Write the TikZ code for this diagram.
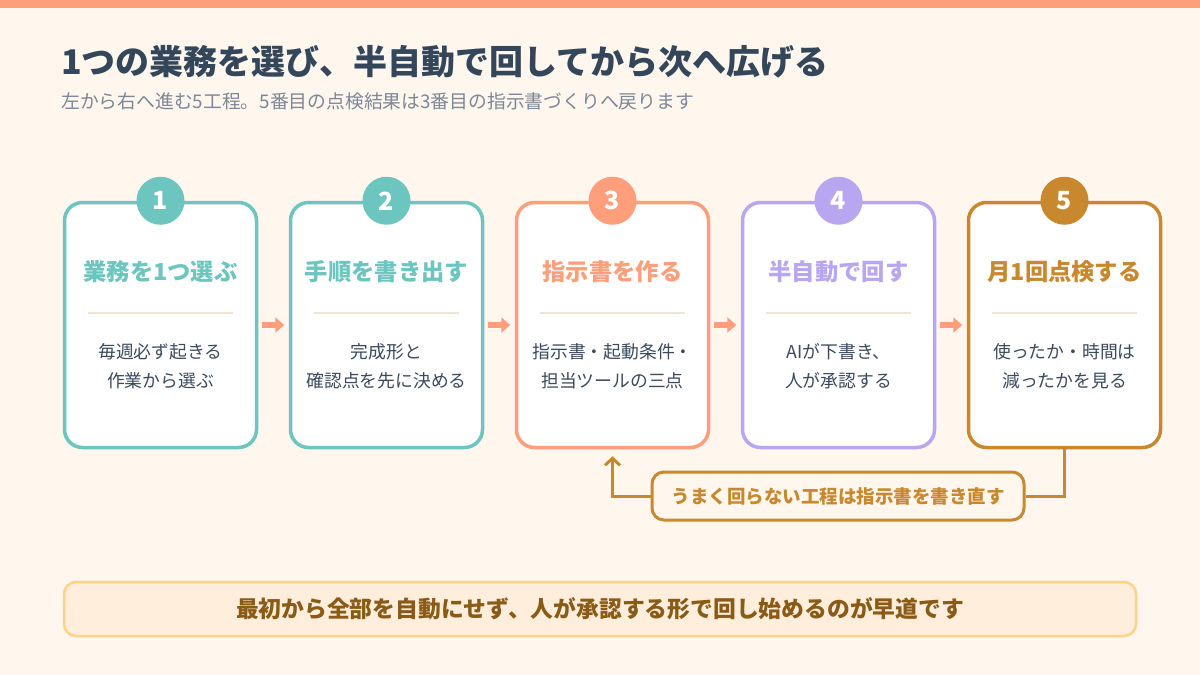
\documentclass[tikz,border=0pt]{standalone}
\usepackage{fontspec}
\setmainfont{Noto Sans CJK JP}
\usetikzlibrary{arrows.meta}
\definecolor{bg}{HTML}{FFF6EE}
\definecolor{topbar}{HTML}{FF9E7A}
\definecolor{ink}{HTML}{34475A}
\definecolor{subink}{HTML}{7C8797}
\definecolor{bodyink}{HTML}{3A4A5C}
\definecolor{cteal}{HTML}{6CC5BE}
\definecolor{csalmon}{HTML}{FF9E7A}
\definecolor{clav}{HTML}{B8A6F0}
\definecolor{cgold}{HTML}{C8892E}
\definecolor{sepc}{HTML}{EEE3D5}
\definecolor{banfill}{HTML}{FFEEDB}
\definecolor{bandraw}{HTML}{FFD28A}
\definecolor{banink}{HTML}{8A5A17}
\tikzset{
  stepbox/.style={draw, line width=3.5pt, rounded corners=18pt, fill=white,
    minimum width=192pt, minimum height=245pt, inner sep=0pt},
  numcircle/.style={circle, minimum size=48pt, inner sep=0pt, text=white,
    font=\bfseries\fontsize{25}{25}\selectfont},
  boxtitle/.style={font=\bfseries\fontsize{23.3}{23.3}\selectfont, inner sep=0pt},
  bodytext/.style={font=\fontsize{17.8}{29}\selectfont, align=center, text=bodyink, inner sep=0pt},
  sepline/.style={draw=sepc, line width=2pt},
  flow/.style={draw=topbar, line width=6pt, -{Triangle[length=9pt,width=15pt]}},
  fbline/.style={draw=cgold, line width=3pt},
  fblabel/.style={draw=cgold, line width=3pt, fill=bg, rounded corners=12pt,
    minimum width=372pt, minimum height=48pt, inner sep=0pt, text=cgold,
    font=\bfseries\fontsize{18.5}{18.5}\selectfont},
  banner/.style={draw=bandraw, line width=2.5pt, fill=banfill, rounded corners=12pt,
    minimum width=1072pt, minimum height=54pt, inner sep=0pt, text=banink,
    font=\bfseries\fontsize{22.8}{22.8}\selectfont}
}
\begin{document}
\begin{tikzpicture}[x=1pt,y=-1pt]
\fill[bg] (0,0) rectangle (1200,675);
\fill[topbar] (0,0) rectangle (1200,8);
\useasboundingbox (0,0) rectangle (1200,675);

\node[anchor=base west, inner sep=0pt, text=ink, font=\bfseries\fontsize{34}{34}\selectfont] (title) at (61,74.5) {1つの業務を選び、半自動で回してから次へ広げる};
\node[anchor=base west, inner sep=0pt, text=subink, font=\fontsize{18.8}{18.8}\selectfont] (subtitle) at (61,108) {左から右へ進む5工程。5番目の点検結果は3番目の指示書づくりへ戻ります};

\foreach \i/\cx/\col/\ttl/\body in {
  1/160.5/cteal/{業務を1つ選ぶ}/{毎週必ず起きる\\作業から選ぶ},
  2/386.5/cteal/{手順を書き出す}/{完成形と\\確認点を先に決める},
  3/612.5/csalmon/{指示書を作る}/{指示書・起動条件・\\担当ツールの三点},
  4/838.5/clav/{半自動で回す}/{AIが下書き、\\人が承認する},
  5/1064.5/cgold/{月1回点検する}/{使ったか・時間は\\減ったかを見る}}
{
  \node[stepbox, draw=\col] (b\i) at (\cx,325) {};
  \node[numcircle, fill=\col] (n\i) at (b\i.north) {\i};
  \node[boxtitle, text=\col] (t\i) at (\cx,272) {\ttl};
  \draw[sepline] (\cx-72.5,313) -- (\cx+72.5,313);
  \node[bodytext] (d\i) at (\cx,366.5) {\body};
}

\foreach \i/\j in {1/2,2/3,3/4,4/5}
  \draw[flow] ([xshift=3.5pt]b\i.east) -- ([xshift=-4.5pt]b\j.west);

\node[fblabel] (fbl) at (838,496) {うまく回らない工程は指示書を書き直す};
\draw[fbline] (b5.south) |- (fbl.east);
\draw[fbline, -{Straight Barb[length=7pt,width=15pt]}] (fbl.west) -| ([yshift=-7pt]b3.south);

\node[banner] (ban) at (600,609) {最初から全部を自動にせず、人が承認する形で回し始めるのが早道です};
\end{tikzpicture}
\end{document}
